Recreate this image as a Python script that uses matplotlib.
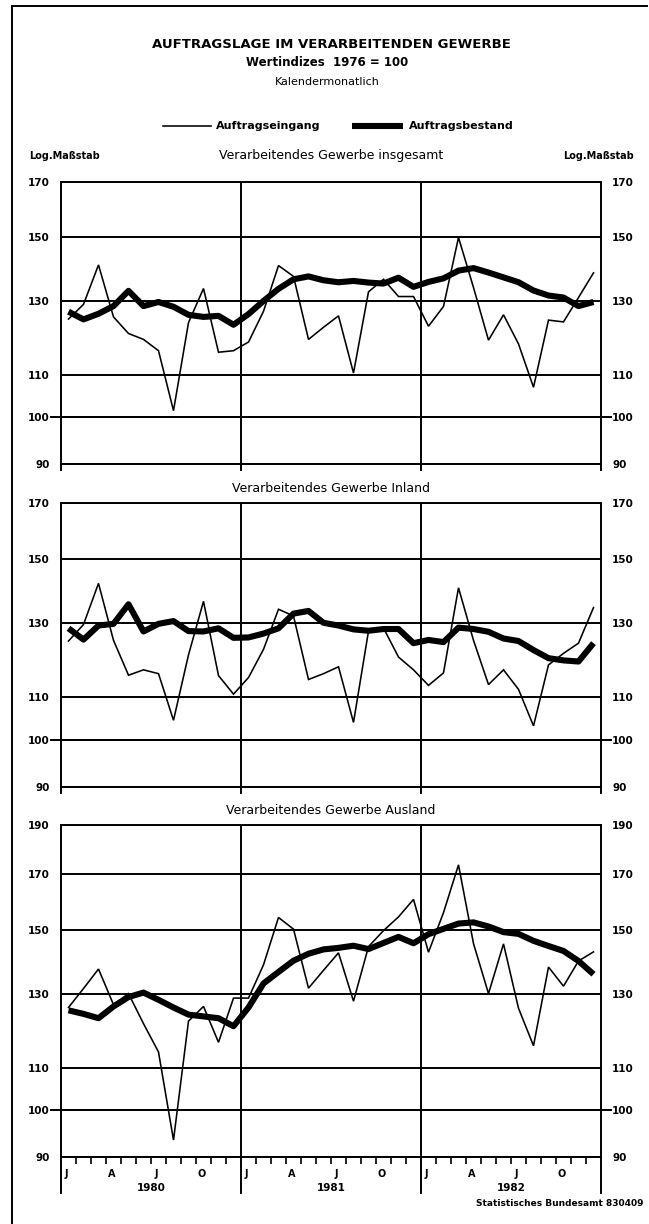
import numpy as np
import matplotlib
matplotlib.use("Agg")
import matplotlib.pyplot as plt
from matplotlib.lines import Line2D
import matplotlib.transforms as mtransforms

# ---------------- data ----------------
years = ["1980", "1981", "1982"]
month_letters = ["J", "A", "J", "O"]
month_letter_idx = [0, 3, 6, 9]

panel_titles = ["Verarbeitendes Gewerbe insgesamt",
                "Verarbeitendes Gewerbe Inland",
                "Verarbeitendes Gewerbe Ausland"]
legend_labels = ["Auftragseingang", "Auftragsbestand"]

eingang_gesamt = [124.8, 129.0, 141.0, 125.4, 120.8, 119.2, 116.2, 101.5, 123.8, 133.7, 115.8, 116.2,
                  118.5, 127.0, 140.8, 137.4, 119.2, 122.5, 125.7, 110.5, 132.7, 136.5, 131.3, 131.3,
                  122.8, 128.4, 150.0, 134.0, 119.0, 126.0, 118.0, 107.0, 124.5, 124.0, 131.0, 138.5]
bestand_gesamt = [126.9, 124.7, 126.3, 128.5, 133.0, 128.5, 129.7, 128.3, 126.0, 125.4, 125.7, 123.2,
                  126.2, 130.0, 133.6, 136.5, 137.4, 136.2, 135.6, 136.0, 135.5, 135.2, 137.0, 134.2,
                  135.7, 136.8, 139.2, 140.0, 138.6, 137.1, 135.6, 133.1, 131.6, 131.0, 128.5, 129.7]

eingang_inland = [124.8, 129.5, 142.0, 125.0, 115.6, 117.0, 116.0, 104.5, 121.0, 136.4, 115.5, 110.8,
                  115.0, 122.5, 134.0, 132.0, 114.5, 116.0, 117.8, 104.0, 127.6, 128.5, 120.4, 117.0,
                  113.0, 116.2, 140.6, 125.0, 113.2, 117.0, 112.0, 103.2, 118.3, 121.4, 124.2, 134.5]
bestand_inland = [128.4, 125.2, 129.2, 129.7, 135.5, 127.5, 129.7, 130.5, 127.6, 127.5, 128.4, 125.7,
                  125.8, 126.9, 128.4, 132.7, 133.5, 130.0, 129.2, 128.1, 127.7, 128.2, 128.2, 124.2,
                  125.1, 124.5, 128.6, 128.2, 127.4, 125.5, 124.8, 122.3, 120.1, 119.5, 119.2, 124.2]

eingang_ausland = [126.0, 131.5, 137.4, 126.8, 130.0, 121.5, 114.0, 93.5, 122.2, 126.3, 116.5, 128.7,
                   128.7, 138.7, 154.3, 150.3, 131.6, 137.0, 142.5, 127.8, 144.5, 149.8, 154.5, 160.7,
                   142.7, 156.0, 173.7, 145.5, 130.0, 145.4, 125.8, 115.6, 138.0, 132.2, 139.9, 142.8]
bestand_ausland = [125.2, 124.2, 123.0, 126.3, 129.0, 130.3, 128.2, 126.0, 124.0, 123.5, 123.0, 120.8,
                   126.0, 133.0, 136.5, 140.0, 142.2, 143.6, 144.1, 144.8, 143.7, 145.7, 147.7, 145.6,
                   148.6, 150.4, 152.2, 152.6, 151.2, 149.3, 148.7, 146.4, 144.7, 143.1, 139.9, 135.8]

yticks_12 = [90, 100, 110, 130, 150, 170]
yticks_3 = [90, 100, 110, 130, 150, 170, 190]

# ---------------- layout helpers ----------------
W, H = 649, 1224
def fx(x): return x / W
def fy(y): return 1 - y / H

NARROW = ['Liberation Sans Narrow', 'DejaVu Sans']
plt.rcParams['font.family'] = ['DejaVu Sans']

fig = plt.figure(figsize=(W / 100, H / 100), dpi=100)
fig.patch.set_facecolor('white')

LW_GRID = 1.4
LW_THIN = 1.15
LW_THICK = 4.4

panels = [
    (panel_titles[0], eingang_gesamt, bestand_gesamt, yticks_12, 182, 464, 156),
    (panel_titles[1], eingang_inland, bestand_inland, yticks_12, 503, 787, 489),
    (panel_titles[2], eingang_ausland, bestand_ausland, yticks_3, 825, 1157, 810),
]

x_left, x_right = 61, 601
n = len(eingang_gesamt)
xpos = np.arange(n) + 0.5

for k, (title, thin, thick, ticks, ytop, ybot, ytitle) in enumerate(panels):
    ax = fig.add_axes([fx(x_left), fy(ybot), (x_right - x_left) / W, (ybot - ytop) / H])
    ax.set_yscale('log')
    ax.set_ylim(ticks[0], ticks[-1])
    ax.set_xlim(0, n)
    for t in ticks:
        ax.axhline(t, color='black', lw=LW_GRID, zorder=1)
    for xv in (12, 24):
        ax.axvline(xv, color='black', lw=LW_GRID, zorder=1)
    for s in ax.spines.values():
        s.set_linewidth(LW_GRID)
    ax.set_yticks(ticks)
    ax.set_yticklabels([str(t) for t in ticks])
    ax.yaxis.set_minor_locator(matplotlib.ticker.NullLocator())
    ax.tick_params(axis='y', length=0, pad=8, labelleft=True, labelright=True,
                   labelsize=7.5)
    for lab in ax.get_yticklabels():
        lab.set_fontweight('bold')
        lab.set_family(NARROW)

    ax.plot(xpos, thin, color='black', lw=LW_THIN, zorder=3, solid_joinstyle='miter')
    ax.plot(xpos, thick, color='black', lw=LW_THICK, zorder=4,
            solid_joinstyle='round', solid_capstyle='butt')

    # extended 100 line
    tr_h = mtransforms.blended_transform_factory(ax.transAxes, ax.transData)
    ax.plot([-0.018, 1.018], [100, 100], transform=tr_h, color='black',
            lw=LW_GRID, clip_on=False)

    # vertical extensions below
    ext_px = 6 if k < 2 else 36
    tr_v = mtransforms.blended_transform_factory(ax.transData, ax.transAxes)
    for xv in (0, 12, 24, 36):
        ax.plot([xv, xv], [0, -ext_px / (ybot - ytop)], transform=tr_v,
                color='black', lw=LW_GRID, clip_on=False)

    if k < 2:
        ax.set_xticks([])
    else:
        ax.set_xticks([m for m in range(1, n) if m % 12 != 0])
        ax.tick_params(axis='x', direction='out', length=5, width=1.2,
                       labelbottom=False)
        tr_t = mtransforms.blended_transform_factory(ax.transData, fig.transFigure)
        for yi, yr in enumerate(years):
            for lab, mi in zip(month_letters, month_letter_idx):
                ax.text(yi * 12 + mi + 0.38, fy(1174), lab, transform=tr_t,
                        ha='center', va='center', fontsize=7, fontweight='bold',
                        family=NARROW)
            ax.text(yi * 12 + 6, fy(1188), yr, transform=tr_t, ha='center',
                    va='center', fontsize=7.5, fontweight='bold', family=NARROW)

    fig.text(fx(331), fy(ytitle), title, ha='center', va='center', fontsize=9)

# headings
fig.text(fx(331), fy(44), "AUFTRAGSLAGE IM VERARBEITENDEN GEWERBE", ha='center',
         va='center', fontsize=9.5, fontweight='bold', family=NARROW)
fig.text(fx(327), fy(63), "Wertindizes  1976 = 100", ha='center', va='center',
         fontsize=8.5, fontweight='bold', family=NARROW)
fig.text(fx(327), fy(82), "Kalendermonatlich", ha='center', va='center',
         fontsize=8, family=NARROW)

# legend
fig.add_artist(Line2D([fx(163), fx(211)], [fy(126), fy(126)], color='black',
                      lw=LW_THIN, transform=fig.transFigure))
fig.text(fx(216), fy(126), legend_labels[0], ha='left', va='center', fontsize=8,
         fontweight='bold', family=NARROW)
fig.add_artist(Line2D([fx(352), fx(403)], [fy(126), fy(126)], color='black',
                      lw=LW_THICK, transform=fig.transFigure, solid_capstyle='butt'))
fig.text(fx(409), fy(126), legend_labels[1], ha='left', va='center', fontsize=8,
         fontweight='bold', family=NARROW)

# Log. Maßstab
fig.text(fx(64), fy(156), "Log.Maßstab", ha='center', va='center', fontsize=7,
         fontweight='bold', family=NARROW)
fig.text(fx(599), fy(156), "Log.Maßstab", ha='center', va='center', fontsize=7,
         fontweight='bold', family=NARROW)

# source
fig.text(fx(644), fy(1203), "Statistisches Bundesamt 830409", ha='right',
         va='center', fontsize=6.5, fontweight='bold', family=NARROW)

# outer border
fig.add_artist(Line2D([fx(12), fx(12)], [fy(6), fy(1224)], color='black',
                      lw=LW_GRID, transform=fig.transFigure))
fig.add_artist(Line2D([fx(12), fx(647)], [fy(6), fy(6)], color='black',
                      lw=LW_GRID, transform=fig.transFigure))

fig.savefig("out.png", dpi=100, facecolor='white')
